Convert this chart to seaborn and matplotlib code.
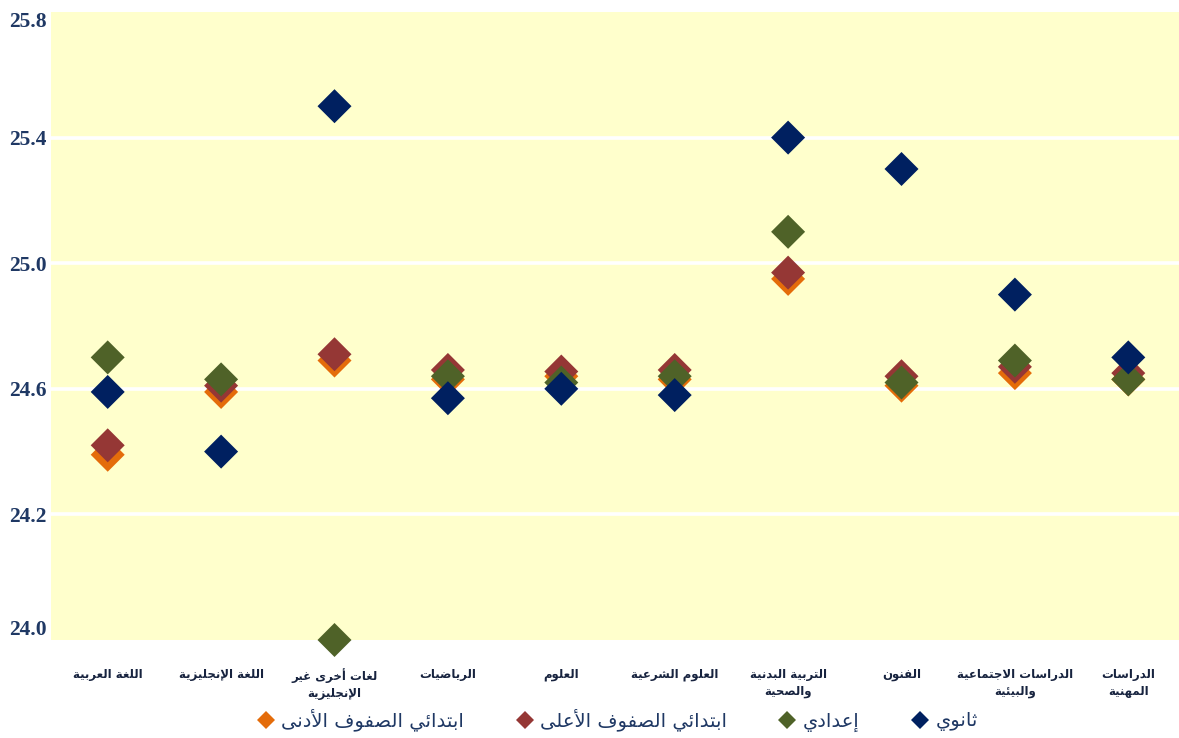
import matplotlib
matplotlib.use("Agg")
import matplotlib.pyplot as plt
from matplotlib.lines import Line2D
import seaborn as sns
import pandas as pd

# ---------------- data ----------------
categories = [
    "اللغة العربية",
    "اللغة الإنجليزية",
    "لغات أخرى غير\nالإنجليزية",
    "الرياضيات",
    "العلوم",
    "العلوم الشرعية",
    "التربية البدنية\nوالصحية",
    "الفنون",
    "الدراسات الاجتماعية\nوالبيئية",
    "الدراسات\nالمهنية",
]
series_names = ["ابتدائي الصفوف الأدنى", "ابتدائي الصفوف الأعلى", "إعدادي", "ثانوي"]
lower_primary = [24.39, 24.59, 24.69, 24.63, 24.64, 24.63, 24.95, 24.61, 24.65, 24.63]
upper_primary = [24.42, 24.61, 24.71, 24.66, 24.655, 24.66, 24.97, 24.64, 24.67, 24.65]
intermediate = [24.70, 24.63, 23.80, 24.64, 24.62, 24.64, 25.10, 24.62, 24.69, 24.63]
secondary = [24.59, 24.40, 25.50, 24.57, 24.60, 24.58, 25.40, 25.30, 24.90, 24.70]
ytick_values = [23.8, 24.2, 24.6, 25.0, 25.4, 25.8]
ytick_labels = ["24.0", "24.2", "24.6", "25.0", "25.4", "25.8"]
colors = ["#E46C0A", "#953735", "#4F6228", "#002060"]

# ------------- minimal Arabic shaping (visual order for matplotlib) -------------
_DUAL = {"ئ": 0xFE89, "ب": 0xFE8F, "ت": 0xFE95, "ث": 0xFE99, "ج": 0xFE9D, "ح": 0xFEA1,
         "خ": 0xFEA5, "س": 0xFEB1, "ش": 0xFEB5, "ص": 0xFEB9, "ض": 0xFEBD, "ط": 0xFEC1,
         "ظ": 0xFEC5, "ع": 0xFEC9, "غ": 0xFECD, "ف": 0xFED1, "ق": 0xFED5, "ك": 0xFED9,
         "ل": 0xFEDD, "م": 0xFEE1, "ن": 0xFEE5, "ه": 0xFEE9, "ي": 0xFEF1}
_RIGHT = {"آ": 0xFE81, "أ": 0xFE83, "ؤ": 0xFE85, "إ": 0xFE87, "ا": 0xFE8D, "ة": 0xFE93,
          "د": 0xFEA9, "ذ": 0xFEAB, "ر": 0xFEAD, "ز": 0xFEAF, "و": 0xFEED, "ى": 0xFEEF}
_LAMALEF = {"آ": 0xFEF5, "أ": 0xFEF7, "إ": 0xFEF9, "ا": 0xFEFB}


def _shape_line(s):
    toks = []
    i = 0
    while i < len(s):
        c = s[i]
        if c == "ل" and i + 1 < len(s) and s[i + 1] in _LAMALEF:
            toks.append(("LA", s[i + 1]))
            i += 2
        else:
            toks.append(c)
            i += 1

    def jn(t):  # joins to next
        return isinstance(t, str) and t in _DUAL

    def jp(t):  # joins to previous
        return isinstance(t, tuple) or (isinstance(t, str) and (t in _DUAL or t in _RIGHT))

    out = []
    for k, t in enumerate(toks):
        prev = toks[k - 1] if k > 0 else None
        nxt = toks[k + 1] if k + 1 < len(toks) else None
        cp = prev is not None and jn(prev) and jp(t)
        cn = nxt is not None and jn(t) and jp(nxt)
        if isinstance(t, tuple):
            base = _LAMALEF[t[1]]
            out.append(chr(base + (1 if cp else 0)))
        elif t in _DUAL:
            base = _DUAL[t]
            off = 3 if (cp and cn) else 1 if cp else 2 if cn else 0
            out.append(chr(base + off))
        elif t in _RIGHT:
            base = _RIGHT[t]
            out.append(chr(base + (1 if cp else 0)))
        else:
            out.append(t)
    return "".join(out)[::-1]


def ar(s):
    return "\n".join(_shape_line(line) for line in s.split("\n"))


# ---------------- frame ----------------
rows = []
for name, vals in zip(series_names, [lower_primary, upper_primary, intermediate, secondary]):
    for i, v in enumerate(vals):
        rows.append({"pos": i, "value": v, "series": name})
df = pd.DataFrame(rows)

sns.set_theme(style="white")
plt.rcParams["font.family"] = ["DejaVu Sans"]

W, H = 1179, 738
fig = plt.figure(figsize=(W / 100, H / 100), dpi=100)
left, right, top, bottom = 51, 1185, 12, 640
ax = fig.add_axes([left / W, 1 - bottom / H, (right - left) / W, (bottom - top) / H])
ax.set_facecolor("#FFFFCC")

sns.scatterplot(data=df, x="pos", y="value", hue="series", hue_order=series_names,
                palette=colors, marker="D", s=300, linewidth=0, legend=False,
                ax=ax, zorder=3, clip_on=False)

ax.set_xlim(-0.5, 9.5)
ax.set_ylim(23.8, 25.8)
for y in [24.2, 24.6, 25.0, 25.4]:
    ax.axhline(y, color="white", lw=2.6, zorder=1)

for s in ax.spines.values():
    s.set_visible(False)
ax.tick_params(length=0)

ax.set_yticks(ytick_values)
ax.set_yticklabels(ytick_labels, fontfamily="Liberation Serif", fontweight="bold",
                   fontsize=15.5, color="#1F3864")
ax.tick_params(axis="y", pad=3)
ax.get_yticklabels()[0].set_va("bottom")
ax.get_yticklabels()[-1].set_va("top")

ax.set_xticks(range(len(categories)))
ax.set_xticklabels([ar(c) for c in categories], fontweight="bold", fontsize=8.5,
                   color="#17233F", linespacing=1.4)
ax.tick_params(axis="x", pad=20)
ax.set_xlabel("")
ax.set_ylabel("")

handles = [Line2D([], [], marker="D", linestyle="none", markersize=9, color=c,
                  markeredgewidth=0) for c in colors]
fig.legend(handles, [ar(n) for n in series_names], loc="center",
           bbox_to_anchor=(617 / W, 1 - 720 / H), ncol=4, frameon=False,
           prop={"size": 14}, labelcolor="#1F3864", handletextpad=0.3,
           columnspacing=2.6, handlelength=1.0)

fig.savefig("out.png", dpi=100)
